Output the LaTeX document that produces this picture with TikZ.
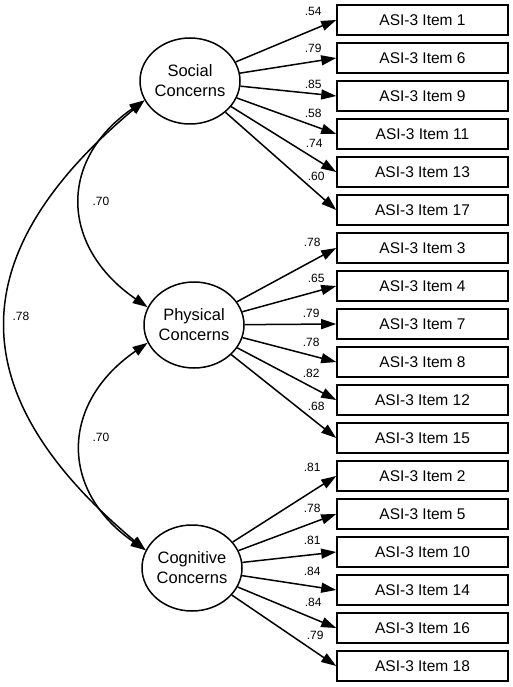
\documentclass[tikz,border=0pt]{standalone}
\usepackage{fontspec}
\setmainfont{Liberation Sans}
\usetikzlibrary{arrows.meta,shapes.geometric}
\begin{document}
\begin{tikzpicture}[x=1pt,y=-1pt,
  item/.style={draw,line width=1.6pt,minimum width=171pt,minimum height=30pt,inner sep=0pt,font=\fontsize{15.5}{18}\selectfont},
  latent/.style={draw,ellipse,line width=1.5pt,minimum width=100pt,minimum height=86pt,inner sep=0pt,align=center,font=\fontsize{16.5}{20}\selectfont},
  arr/.style={line width=1.5pt,-{Triangle[length=15pt,width=10pt]}},
  cov/.style={line width=1.5pt,{Triangle[length=15pt,width=10pt]}-{Triangle[length=15pt,width=10pt]}},
  lbl/.style={font=\fontsize{12}{13}\selectfont,inner sep=0pt}]
\useasboundingbox (0,0) rectangle (512,687);
\node[latent] (S) at (190,81) {Social\\Concerns};
\node[latent] (P) at (194,325) {Physical\\Concerns};
\node[latent] (C) at (192,568) {Cognitive\\Concerns};
\foreach \i/\n/\f/\l/\dx/\dy in {
  0/1/S/.54/-23/-9, 1/6/S/.79/-23/-10, 2/9/S/.85/-23/-12, 3/11/S/.58/-23/-21, 4/13/S/.74/-22/-29, 5/17/S/.60/-20/-34,
  6/3/P/.78/-24/-6, 7/4/P/.65/-20/-8, 8/7/P/.79/-25/-11, 9/8/P/.78/-25/-20, 10/12/P/.82/-25/-27, 11/15/P/.68/-20/-32,
  12/2/C/.81/-24/-9, 13/5/C/.78/-24/-6, 14/10/C/.81/-24/-12, 15/14/C/.84/-24/-19, 16/16/C/.84/-23/-26, 17/18/C/.79/-21/-31}{
  \node[item] (b\i) at (422.5,{20+38*\i}) {ASI-3 Item \n};
  \draw[arr] (\f) -- (b\i.west);
  \node[lbl] (l\i) at ([xshift=\dx pt,yshift=-\dy pt]b\i.west) {\l};
}
\draw[cov] (S.203) .. controls +(-87,60) and +(-87,-60) .. (P.159);
\draw[cov] (P.201) .. controls +(-87,60) and +(-87,-60) .. (C.159);
\draw[cov] (S.203) .. controls +(-185,155) and +(-185,-155) .. (C.159);
\node[lbl] (c1) at (101,201) {.70};
\node[lbl] (c2) at (101,437) {.70};
\node[lbl] (c3) at (21,316) {.78};
\end{tikzpicture}
\end{document}
